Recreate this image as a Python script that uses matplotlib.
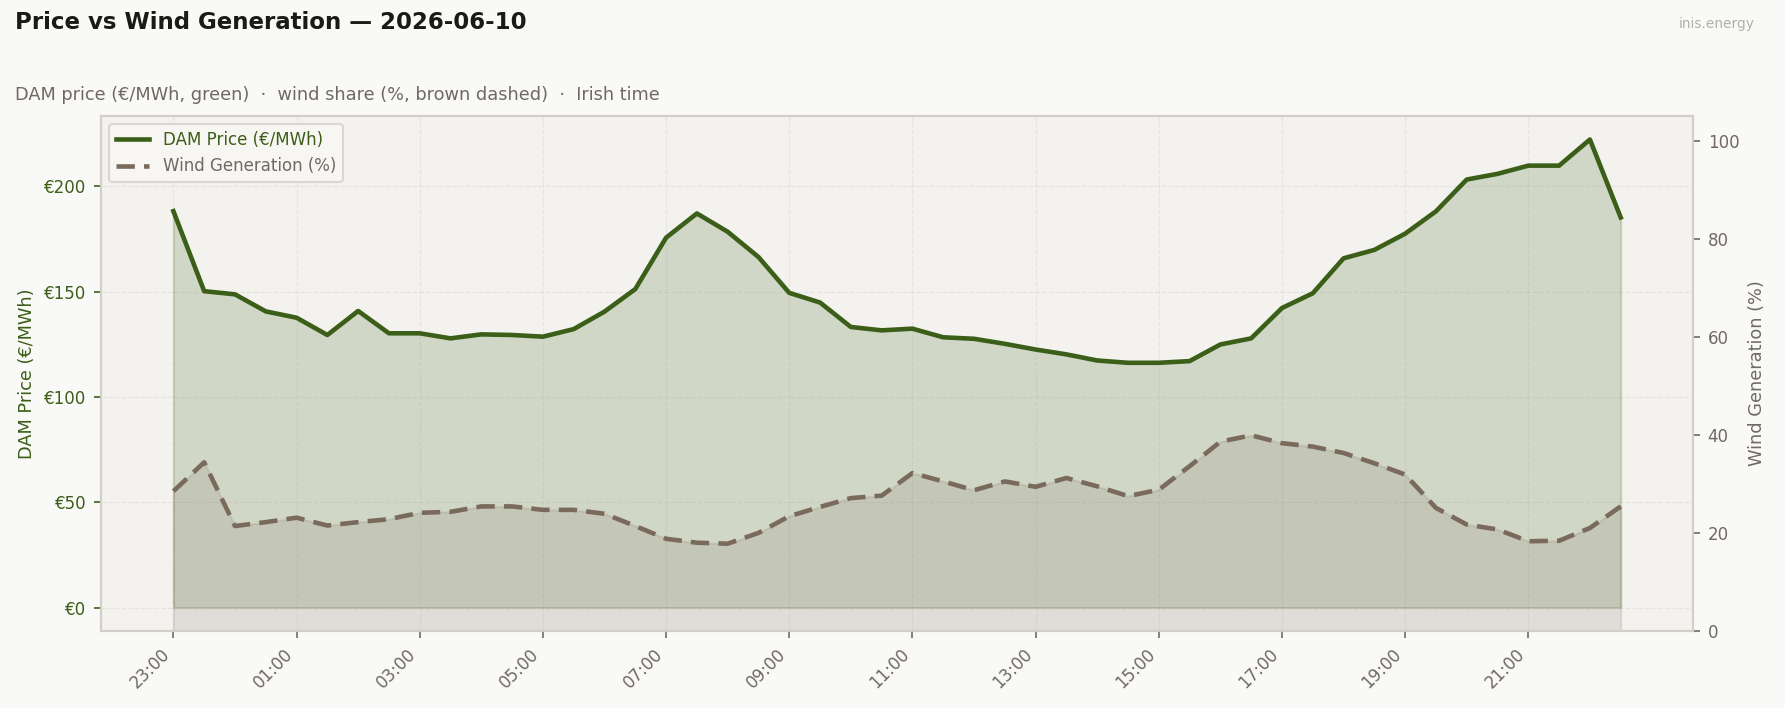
import matplotlib
matplotlib.use("Agg")
import matplotlib.pyplot as plt
import matplotlib.dates as mdates
import matplotlib.ticker as mticker
import numpy as np
import pandas as pd

# ---- data ----
start_time = "2026-06-09 23:00"
n_periods = 48
price = [188.2, 150.2, 148.7, 140.6, 137.6, 129.4, 140.8, 130.2, 130.2, 127.8,
         129.7, 129.4, 128.6, 132.2, 140.5, 151.2, 175.6, 187.1, 178.4, 166.4,
         149.4, 144.8, 133.2, 131.6, 132.4, 128.3, 127.6, 125.2, 122.5, 120.2,
         117.3, 116.2, 116.2, 117.0, 124.9, 127.8, 142.2, 149.2, 165.8, 169.8,
         177.5, 188.1, 203.2, 205.9, 209.8, 209.8, 222.2, 185.2]
wind = [28.5, 34.4, 21.4, 22.2, 23.1, 21.5, 22.2, 22.8, 24.1, 24.3,
        25.4, 25.4, 24.7, 24.7, 23.9, 21.4, 18.8, 18.0, 17.8, 20.0,
        23.4, 25.3, 27.1, 27.6, 32.2, 30.5, 28.7, 30.5, 29.4, 31.2,
        29.5, 27.5, 28.8, 33.6, 38.6, 39.9, 38.3, 37.6, 36.3, 34.2,
        31.9, 25.1, 21.7, 20.7, 18.3, 18.4, 21.0, 25.4]
price_ticks = [0, 50, 100, 150, 200]
wind_ticks = [0, 20, 40, 60, 80, 100]

title = "Price vs Wind Generation \u2014 2026-06-10"
subtitle = "DAM price (\u20ac/MWh, green)  \u00b7  wind share (%, brown dashed)  \u00b7  Irish time"

GREEN = "#3b5e18"
BROWN = "#7a6a5c"
GREY_TXT = "#716961"
SPINE = "#d3cfc8"
FIG_BG = "#f9f9f7"
AX_BG = "#f3f2ee"

times = pd.date_range(start_time, periods=n_periods, freq="30min")

plt.rcParams['font.family'] = ['DejaVu Sans']
fig = plt.figure(figsize=(11.9, 4.72), dpi=150, facecolor=FIG_BG)
ax = fig.add_axes([0.0566, 0.1088, 0.8919, 0.7272])
ax.set_facecolor(AX_BG)

ax.fill_between(times, 0, price, color=GREEN, alpha=0.18, zorder=1)
l1, = ax.plot(times, price, color=GREEN, lw=2.2, label="DAM Price (\u20ac/MWh)", zorder=3)
ax.set_yticks(price_ticks)
ax.set_yticklabels([f"\u20ac{v}" for v in price_ticks])
ax.tick_params(axis='y', colors=GREEN, labelsize=8, length=3.5)
ax.tick_params(axis='x', colors=GREY_TXT, labelsize=8, length=3.5)
ax.set_ylabel("DAM Price (\u20ac/MWh)", color=GREEN, fontsize=8.5)
ax.grid(True, ls='--', lw=0.6, color="#dedbd4", alpha=0.6)
ax.set_axisbelow(True)

tick_times = times[::4]
ax.xaxis.set_major_locator(mticker.FixedLocator(mdates.date2num(tick_times)))
ax.xaxis.set_major_formatter(mdates.DateFormatter("%H:%M"))
plt.setp(ax.get_xticklabels(), rotation=45, ha='right')

ax2 = ax.twinx()
ax2.fill_between(times, 0, wind, color=BROWN, alpha=0.15, zorder=1)
l2, = ax2.plot(times, wind, color=BROWN, lw=2.2, ls=(0, (4, 2)), label="Wind Generation (%)", zorder=3)
ax2.set_ylim(0, 105)
ax2.set_yticks(wind_ticks)
ax2.tick_params(axis='y', colors=GREY_TXT, labelsize=8, length=3.5)
ax2.set_ylabel("Wind Generation (%)", color=GREY_TXT, fontsize=8.5)

for a in (ax, ax2):
    for s in a.spines.values():
        s.set_color(SPINE)
        s.set_linewidth(1.0)

leg = ax2.legend(handles=[l1, l2], loc='upper left', fontsize=8, frameon=True,
                 facecolor="#f8f7f4", edgecolor="#d8d4cd", framealpha=0.9)
for t, c in zip(leg.get_texts(), [GREEN, GREY_TXT]):
    t.set_color(c)

fig.text(0.0084, 0.968, title, fontsize=11, fontweight='bold', color="#1c1a17", va='center', ha='left')
fig.text(0.0084, 0.866, subtitle, fontsize=8.5, color=GREY_TXT, va='center', ha='left')
fig.text(0.983, 0.966, "inis.energy", fontsize=6.6, color="#b3b0ab", va='center', ha='right')

fig.savefig("out.png", dpi=150, facecolor=FIG_BG)
